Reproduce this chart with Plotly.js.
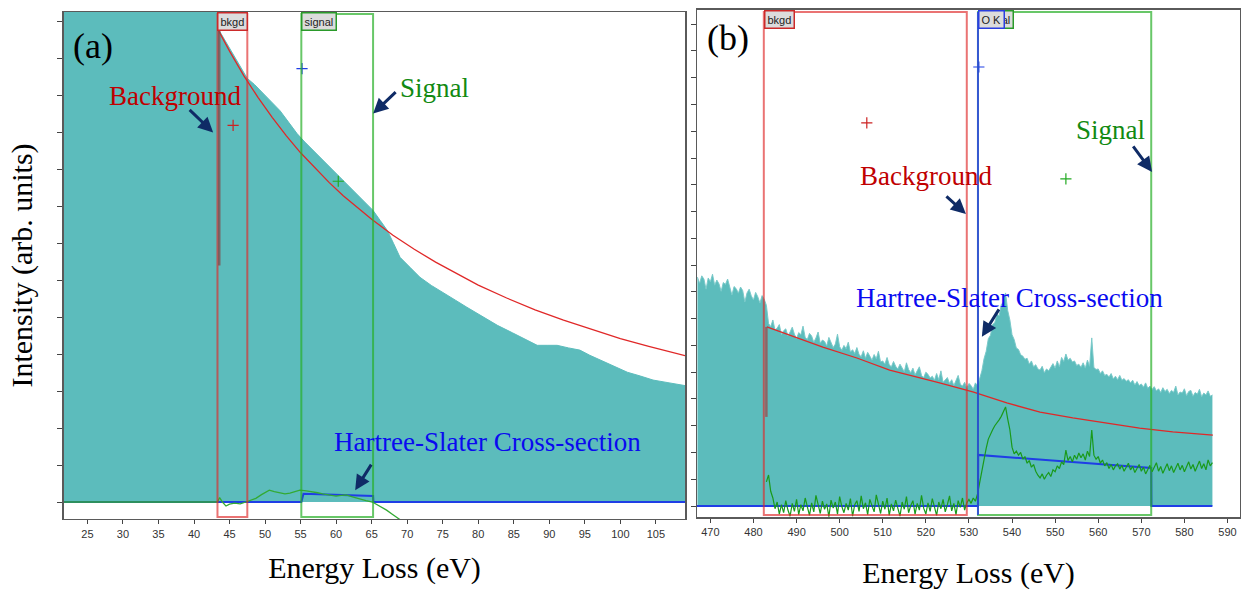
<!DOCTYPE html>
<html>
<head>
<meta charset="utf-8">
<script src="https://cdn.plot.ly/plotly-3.0.1.min.js"></script>
<style>
  html, body { margin: 0; padding: 0; background: #fff; }
  #chart { width: 1246px; height: 593px; }
</style>
</head>
<body>
<div id="chart"></div>
<script>
// ---------- Panel (a): low-loss edge region ----------
const specA_E = [21.7, 43.2, 43.3, 44.0, 45.0, 46.0, 47.0, 47.5, 48.5, 49.3, 50.5, 52.1, 53.3, 54.5, 55.6, 56.8, 58.2, 59.6,
  60.8, 62.0, 63.6, 65.2, 66.2, 67.2, 68.1, 69.0, 70.4, 71.8, 73.4, 75.1, 76.8, 78.4, 80.5, 82.7, 84.8, 86.9, 88.3, 89.7,
  91.1, 92.7, 94.3, 95.7, 97.2, 99.1, 101.0, 102.8, 104.6, 106.7, 109.1];
const specA_I = [14, 14, 12.84, 12.61, 12.28, 11.95, 11.62, 11.46, 11.3, 11.14, 10.9, 10.59, 10.28, 9.97, 9.74, 9.51, 9.24, 8.97,
  8.74, 8.51, 8.2, 7.89, 7.62, 7.35, 6.99, 6.62, 6.35, 6.08, 5.86, 5.65, 5.46, 5.27, 5.02, 4.78, 4.58, 4.38, 4.24, 4.24,
  4.24, 4.17, 4.11, 3.97, 3.84, 3.68, 3.51, 3.41, 3.30, 3.23, 3.15];

const bkgA_E = [43.3, 45, 47, 49, 51, 53, 55, 57, 59, 61, 63, 65, 68, 71, 74, 77, 80, 84, 88, 92, 96, 100, 104, 109.1];
const bkgA_I = [12.81, 12.20, 11.54, 10.95, 10.41, 9.91, 9.45, 9.04, 8.65, 8.29, 7.96, 7.65, 7.22, 6.84, 6.49, 6.17,
  5.87, 5.52, 5.20, 4.92, 4.66, 4.42, 4.21, 3.96];

const sigA_E = [21.7, 43.3, 43.6, 44.0, 44.5, 45.0, 45.7, 46.5, 47.3, 48.0, 48.7, 49.5, 50.6, 51.3, 52.1, 52.8, 53.5, 54.2,
  54.9, 55.8, 56.7, 57.4, 58.1, 59.0, 60.0, 60.7, 61.4, 62.3, 63.3, 64.2, 65.1, 66.1, 67.1, 67.9, 68.7, 69.6, 70.5];
const sigA_I = [0, 0, 0.12, 0.0, -0.11, -0.06, -0.03, -0.05, 0, 0.05, 0.1, 0.2, 0.32, 0.28, 0.25, 0.22, 0.24, 0.28,
  0.32, 0.3, 0.28, 0.25, 0.22, 0.2, 0.16, 0.18, 0.19, 0.14, 0.08, 0.04, 0, -0.1, -0.22, -0.33, -0.43, -0.56, -0.7];

const hsA_E = [21.7, 55.1, 55.4, 65.2, 65.25, 109.1];
const hsA_I = [0, 0, 0.22, 0.16, 0, 0];

const winA_bkgd = [43.3, 47.5];
const winA_signal = [55.1, 65.2];
const fitStartA = [6.4, 12.84];

const markA_E = [55.2, 45.5, 60.3];
const markA_I = [11.73, 10.19, 8.68];

// ---------- Panel (b): O K edge ----------
const specB_E0 = 467.0, specB_dE = 0.5;
const specB_I = [
  8.55, 8.32, 8.60, 8.48, 8.10, 8.52, 8.38, 8.66, 8.25, 8.44,
  8.30, 8.02, 8.35, 8.28, 8.48, 8.15, 7.88, 8.20, 8.12, 7.95,
  8.18, 8.05, 7.62, 7.96, 8.10, 7.85, 7.70, 7.98, 7.82, 7.58,
  7.86, 7.72, 7.50,
  6.82, 6.70, 6.95, 6.58, 6.64, 6.78, 6.40, 6.55, 6.62, 6.35,
  6.50, 6.68, 6.42, 6.25, 6.48, 6.40, 6.72, 6.30, 6.22, 6.45,
  6.35, 6.12, 6.28, 6.50, 6.08, 6.20, 6.15, 5.98, 6.30, 6.10,
  5.92, 6.05, 6.42, 5.95, 5.82, 6.00, 5.88, 6.12, 5.75, 5.84,
  5.70, 5.92, 5.66, 5.58, 5.80, 5.52, 5.74, 5.60, 5.45, 5.66,
  5.50, 5.78, 5.38, 5.42, 5.30, 5.55, 5.28, 5.20, 5.40, 5.22,
  5.12, 5.30, 5.18, 5.02, 5.35, 5.10, 4.98, 5.15, 4.90, 5.05,
  5.20, 4.88, 4.80, 5.00, 4.92, 4.78, 4.85, 4.70, 4.95, 4.72,
  5.05, 4.62, 4.70, 4.80, 4.58, 4.72, 4.50, 4.66, 4.88, 4.55,
  4.48, 4.62, 4.40, 4.58, 4.50, 4.36, 4.60, 4.48,
  4.80, 5.05, 5.50, 5.78, 6.25, 6.38, 6.78, 6.85, 7.18, 7.10,
  7.52, 7.62, 7.96, 7.30, 6.95, 6.40, 6.22, 5.90, 5.85, 5.65,
  5.60, 5.48, 5.52, 5.30, 5.42, 5.20, 5.28, 5.12, 5.08, 5.22,
  4.98, 5.12, 5.05, 5.20, 5.32, 5.15, 5.42, 5.20, 5.55, 5.40,
  5.68, 5.45, 5.52, 5.38, 5.42, 5.25, 5.30, 5.18, 5.35, 5.15,
  5.45, 5.22, 6.28, 5.18, 5.10, 5.12, 4.95, 5.05, 4.88, 4.92,
  4.82, 4.95, 4.75, 4.85, 4.72, 4.88, 4.70, 4.76, 4.66, 4.72,
  4.60, 4.70, 4.52, 4.65, 4.50, 4.56, 4.44, 4.60, 4.40, 4.48,
  4.35, 4.46, 4.30, 4.38, 4.24, 4.42, 4.28, 4.36, 4.20, 4.32,
  4.25, 4.48, 4.15, 4.26, 4.22, 4.38, 4.12, 4.28, 4.32, 4.10,
  4.24, 4.18, 4.36, 4.08, 4.22, 4.15, 4.30, 4.10, 4.15
];

const bkgB_E = [483.1, 488.4, 496.1, 504.0, 511.6, 523.2, 530.9, 538.8, 546.5, 554.1, 562.0, 569.6, 577.3, 586.6];
const bkgB_I = [6.69, 6.39, 5.94, 5.53, 5.08, 4.60, 4.26, 3.85, 3.51, 3.29, 3.10, 2.91, 2.77, 2.65];

const sigB_E0 = 483.0, sigB_dE = 0.5;
const sigB_I = [
  0.90, 1.16, 0.55, 0.30, -0.10, 0.15, -0.30, 0.05, -0.25, 0.20,
  -0.15, -0.38, 0.10, -0.20, 0.25, -0.32, 0.05, -0.18, 0.30, -0.05,
  -0.35, 0.12, -0.22, 0.40, 0.02, -0.28, 0.18, -0.12, 0.08, -0.40,
  0.22, -0.08, 0.15, -0.30, 0.35, -0.02, -0.25, 0.10, -0.15, 0.28,
  -0.38, 0.05, 0.20, -0.20, 0.38, -0.10, 0.12, -0.32, 0.25, 0.00,
  -0.22, 0.42, 0.05, -0.28, 0.18, -0.12, 0.30, -0.35, 0.08, -0.18,
  0.22, -0.05, -0.38, 0.15, -0.12, 0.35, -0.25, 0.02, 0.20, -0.30,
  0.10, -0.15, 0.40, -0.08, -0.30, 0.12, -0.20, 0.28, 0.00, -0.35,
  0.15, -0.10, 0.25, -0.22, 0.05, 0.38, -0.18, 0.10, -0.32, 0.20,
  -0.05, 0.30, -0.15, 0.12, 0.25, 0.10, 0.30, 0.18, 0.45, 0.90,
  1.35, 1.75, 2.15, 2.50, 2.70, 2.85, 3.00, 3.10, 3.22, 3.35,
  3.50, 3.70, 3.25, 2.85, 2.20, 1.95, 2.05, 1.90, 2.00, 1.75,
  1.85, 1.60, 1.70, 1.45, 1.55, 1.30, 1.15, 1.05, 1.20, 1.00,
  1.15, 1.25, 1.10, 1.35, 1.28, 1.50, 1.40, 1.65, 1.55, 2.09,
  1.70, 1.85, 1.65, 1.90, 1.75, 1.98, 1.80, 1.95, 1.72, 2.05,
  1.85, 2.84, 1.90, 1.75, 1.85, 1.60, 1.72, 1.50, 1.62, 1.40,
  1.55, 1.35, 1.50, 1.58, 1.38, 1.52, 1.30, 1.45, 1.60, 1.35,
  1.48, 1.25, 1.42, 1.55, 1.30, 1.45, 1.20, 1.38, 1.52, 1.28,
  1.46, 1.62, 1.30, 1.48, 1.22, 1.40, 1.58, 1.32, 1.50, 1.25,
  1.42, 1.60, 1.35, 1.52, 1.28, 1.45, 1.65, 1.38, 1.55, 1.30,
  1.50, 1.68, 1.40, 1.58, 1.35, 1.72, 1.50, 1.62
];

const hsB_E = [466.9, 532.1, 532.15, 572.3, 572.35, 586.5];
const hsB_I = [0, 0, 1.91, 1.42, 0, 0];

const winB_bkgd = [482.4, 529.5];
const winB_signal = [532.1, 572.3];
const edgeB = 532.1;
const fitStartB = [3.33, 6.69];

const markB_E = [532.3, 506.3, 552.5];
const markB_I = [16.4, 14.31, 12.22];

// ---------- styling ----------
const TEAL = '#5cbcbc';
const RED_FIT = '#e02828';
const GREEN_SIG = '#1a9a1a';
const BLUE_HS = '#1f3ee6';
const BOX_RED = 'rgba(222,40,40,0.65)';
const BOX_GREEN = 'rgba(40,175,40,0.7)';
const ARROW = '#0f2b66';
const SERIF = 'Liberation Serif, Times New Roman, serif';
const SANS = 'Liberation Sans, Arial, sans-serif';
const markColors = [BLUE_HS, '#cc2222', '#22aa22'];

function series(x0, dx, n) {
  // channel energies of a uniformly binned spectrum
  const out = [];
  for (let i = 0; i < n; i++) out.push(+(x0 + i * dx).toFixed(3));
  return out;
}

const traces = [
  // panel (a)
  {x: specA_E, y: specA_I, xaxis: 'x', yaxis: 'y', type: 'scatter', mode: 'lines',
   fill: 'tozeroy', fillcolor: TEAL, line: {color: TEAL, width: 1}},
  {x: bkgA_E, y: bkgA_I, xaxis: 'x', yaxis: 'y', type: 'scatter', mode: 'lines',
   line: {color: RED_FIT, width: 1.3}},
  {x: hsA_E, y: hsA_I, xaxis: 'x', yaxis: 'y', type: 'scatter', mode: 'lines',
   line: {color: BLUE_HS, width: 2}},
  {x: sigA_E, y: sigA_I, xaxis: 'x', yaxis: 'y', type: 'scatter', mode: 'lines',
   line: {color: '#33aa33', width: 1.3}},
  {x: markA_E, y: markA_I, xaxis: 'x', yaxis: 'y', type: 'scatter', mode: 'markers',
   marker: {symbol: 'cross-thin', size: 8, line: {width: 1.2, color: markColors}}},
  // panel (b)
  {x: series(specB_E0, specB_dE, specB_I.length), y: specB_I, xaxis: 'x2', yaxis: 'y2', type: 'scatter', mode: 'lines',
   fill: 'tozeroy', fillcolor: TEAL, line: {color: 'rgba(120,200,200,0.95)', width: 1}},
  {x: bkgB_E, y: bkgB_I, xaxis: 'x2', yaxis: 'y2', type: 'scatter', mode: 'lines',
   line: {color: RED_FIT, width: 1.3}},
  {x: hsB_E, y: hsB_I, xaxis: 'x2', yaxis: 'y2', type: 'scatter', mode: 'lines',
   line: {color: BLUE_HS, width: 2}},
  {x: series(sigB_E0, sigB_dE, sigB_I.length), y: sigB_I, xaxis: 'x2', yaxis: 'y2', type: 'scatter', mode: 'lines',
   line: {color: GREEN_SIG, width: 1.2}},
  {x: markB_E, y: markB_I, xaxis: 'x2', yaxis: 'y2', type: 'scatter', mode: 'markers',
   marker: {symbol: 'cross-thin', size: 8, line: {width: 1.2, color: markColors}}}
];

function windowBox(xr, yr, win, color) {
  return {type: 'rect', xref: xr, yref: yr + ' domain', x0: win[0], x1: win[1], y0: 0.004, y1: 0.996,
          line: {color: color, width: 2}, fillcolor: 'rgba(0,0,0,0)', layer: 'above'};
}

const shapes = [
  windowBox('x', 'y', winA_bkgd, BOX_RED),
  windowBox('x', 'y', winA_signal, BOX_GREEN),
  {type: 'line', xref: 'x', yref: 'y', x0: winA_bkgd[0] + 0.25, x1: winA_bkgd[0] + 0.25,
   y0: fitStartA[0], y1: fitStartA[1], line: {color: 'rgba(125,75,75,0.75)', width: 2.5}},
  windowBox('x2', 'y2', winB_bkgd, BOX_RED),
  windowBox('x2', 'y2', winB_signal, BOX_GREEN),
  {type: 'line', xref: 'x2', yref: 'y2 domain', x0: edgeB, x1: edgeB, y0: 0.004, y1: 0.996,
   line: {color: 'rgba(40,60,235,0.8)', width: 2}, layer: 'above'},
  {type: 'line', xref: 'x2', yref: 'y2', x0: winB_bkgd[0] + 0.6, x1: winB_bkgd[0] + 0.6,
   y0: fitStartB[0], y1: fitStartB[1], line: {color: 'rgba(150,80,80,0.8)', width: 2.5}}
];

function tag(xr, yr, x, text, border) {
  return {xref: xr, yref: yr + ' domain', x: x, y: 1, xanchor: 'left', yanchor: 'top', showarrow: false,
          text: text, font: {family: SANS, size: 11, color: '#222'}, bgcolor: '#dcdcdc',
          bordercolor: border, borderwidth: 1.5, borderpad: 2};
}

function label(xr, yr, x, y, text, color, size) {
  return {xref: xr, yref: yr, x: x, y: y, xanchor: 'center', yanchor: 'middle', showarrow: false,
          text: text, font: {family: SERIF, size: size, color: color}};
}

function arrow(xr, yr, x, y, ax, ay) {
  return {xref: xr, yref: yr, x: x, y: y, ax: ax, ay: ay, text: '', showarrow: true,
          arrowhead: 2, arrowsize: 1, arrowwidth: 3, arrowcolor: ARROW, standoff: 0};
}

const annotations = [
  tag('x', 'y', winA_bkgd[0], 'bkgd', '#cc2a2a'),
  tag('x', 'y', winA_signal[0], 'signal', '#2a9a2a'),
  tag('x2', 'y2', winB_bkgd[0], 'bkgd', '#cc2a2a'),
  tag('x2', 'y2', winB_signal[0], 'signal', '#2a9a2a'),
  tag('x2', 'y2', edgeB, 'O K', '#2a3ee0'),

  label('x', 'y', 25.8, 12.35, '(a)', '#000', 36),
  label('x', 'y', 37.3, 11.0, 'Background', '#c00000', 27),
  label('x', 'y', 73.9, 11.19, 'Signal', '#128a12', 27),
  label('x', 'y', 81.25, 1.62, 'Hartree-Slater Cross-section', '#0a0af0', 27),
  arrow('x', 'y', 42.69, 10.0, -25, -24),
  arrow('x', 'y', 65.21, 10.51, 24, -23),
  arrow('x', 'y', 62.68, 0.32, 17, -27),

  label('x2', 'y2', 474.1, 17.49, '(b)', '#000', 36),
  label('x2', 'y2', 520.0, 12.33, 'Background', '#c00000', 27),
  label('x2', 'y2', 562.9, 14.05, 'Signal', '#128a12', 27),
  label('x2', 'y2', 539.3, 7.77, 'Hartree-Slater Cross-section', '#0a0af0', 27),
  arrow('x2', 'y2', 529.3, 10.91, -21, -19),
  arrow('x2', 'y2', 572.5, 12.48, -20, -27),
  arrow('x2', 'y2', 533.0, 6.32, 18, -29)
];

const axisCommon = {
  showline: true, mirror: true, linecolor: '#5a5a5a', linewidth: 1.5,
  showgrid: false, zeroline: false, ticks: 'outside', tickcolor: '#444', tickwidth: 1
};
const xTitle = (standoff) => ({text: 'Energy Loss (eV)', font: {family: SERIF, size: 30, color: '#000'}, standoff: standoff});

const layout = {
  width: 1246, height: 593,
  margin: {l: 0, r: 0, t: 0, b: 0},
  paper_bgcolor: '#fff', plot_bgcolor: '#fff',
  showlegend: false,
  xaxis: Object.assign({}, axisCommon, {
    domain: [0.05136, 0.54976], range: [21.7, 109.1], tick0: 0, dtick: 5, ticklen: 4, anchor: 'y',
    tickfont: {family: SANS, size: 11, color: '#333'}, title: xTitle(18)
  }),
  yaxis: Object.assign({}, axisCommon, {
    domain: [0.12479, 0.97976], range: [-0.46, 13.26], tick0: 0, dtick: 1, ticklen: 5, anchor: 'x',
    showticklabels: false,
    title: {text: 'Intensity (arb. units)', font: {family: SERIF, size: 30, color: '#000'}, standoff: 16}
  }),
  xaxis2: Object.assign({}, axisCommon, {
    domain: [0.5594, 0.99518], range: [466.9, 592.9], tick0: 0, dtick: 10, ticklen: 4, anchor: 'y2',
    tickfont: {family: SANS, size: 11, color: '#333'}, title: xTitle(25)
  }),
  yaxis2: Object.assign({}, axisCommon, {
    domain: [0.12816, 0.98314], range: [-0.41, 18.53], tick0: 0, dtick: 1, ticklen: 5, anchor: 'x2',
    showticklabels: false
  }),
  shapes: shapes,
  annotations: annotations
};

Plotly.newPlot('chart', traces, layout, {displayModeBar: false, staticPlot: true});
</script>
</body>
</html>
